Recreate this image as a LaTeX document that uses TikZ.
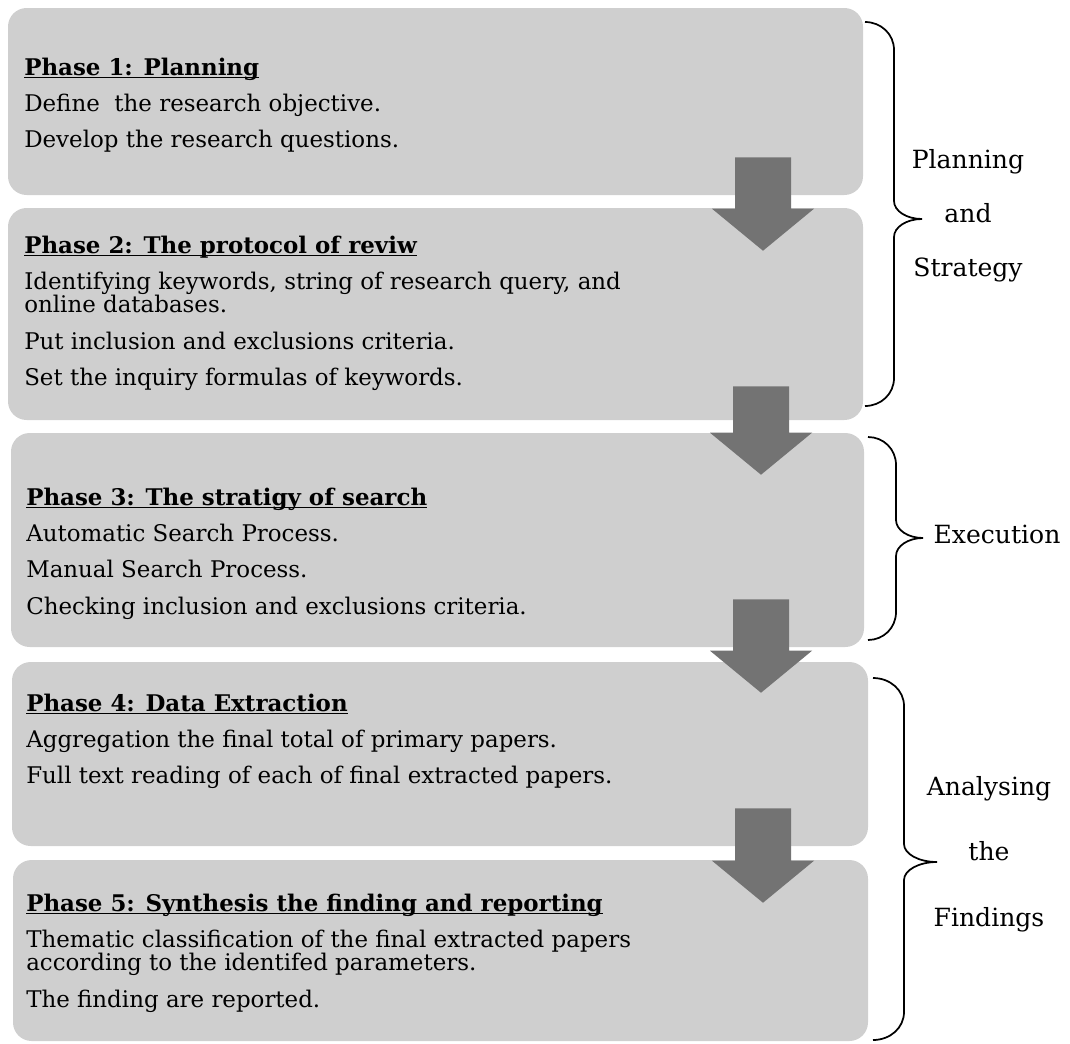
\documentclass[tikz,border=0pt]{standalone}
\usepackage{fontspec}
\setmainfont{DejaVu Serif}
\usetikzlibrary{fit}

\definecolor{boxgray}{RGB}{207,207,207}
\definecolor{arrowgray}{RGB}{115,115,115}

% bold heading with an underline that crosses the descenders
\newlength\phaseulw
\newcommand\phasehead[1]{\leavevmode\settowidth\phaseulw{\bfseries #1}%
  \rlap{\rule[-2.4pt]{\phaseulw}{1pt}}{\bfseries #1}}

% paragraph list set from the baseline of its first line
\newcommand\phaselines[1]{\parbox[t]{600pt}{\raggedright #1}}
\newcommand\parskipline{\\[9.75pt]}

% block arrow: centre x, box it starts in, rise above that box's bottom,
% box it points into, shift of the head base below that box's top
\newcommand\flowarrow[5]{%
  \path (#2.south) ++(0,-#3) coordinate (shafttop);
  \path (#4.north) ++(0,#5) coordinate (headbase);
  \path (#4.north) ++(0,#5+42) coordinate (headtip);
  \fill[arrowgray]
    (#1-28,0 |- shafttop) -- (#1+28,0 |- shafttop) --
    (#1+28,0 |- headbase) -- (#1+51,0 |- headbase) --
    (#1,0 |- headtip) --
    (#1-51,0 |- headbase) -- (#1-28,0 |- headbase) -- cycle;
}

% curly brace: end x, top y, bottom y, spine x, tip x, tip y
\newcommand\phasebrace[6]{%
  \draw[bracestroke]
    (#1,#2) .. controls ({#1+0.55*(#4-#1)},#2) and (#4,#2+12) .. (#4,#2+28)
    -- (#4,#6-18) .. controls (#4,#6-8) and ({#5-0.55*(#5-#4)},#6) .. (#5,#6)
    .. controls ({#5-0.55*(#5-#4)},#6) and (#4,#6+8) .. (#4,#6+18)
    -- (#4,#3-28) .. controls (#4,#3-12) and ({#1+0.55*(#4-#1)},#3) .. (#1,#3);
}

\begin{document}
\begin{tikzpicture}[x=0.75pt,y=-0.75pt,
  phasebox/.style={fill=boxgray, draw=none, rounded corners=14pt, inner sep=0pt},
  phasetext/.style={anchor=base west, inner sep=0pt,
    font=\fontsize{17.2}{17.6}\selectfont},
  grouplabel/.style={anchor=base, inner sep=0pt,
    font=\fontsize{18.8}{22}\selectfont},
  bracestroke/.style={draw=black, line width=1.3pt}]

\useasboundingbox (0,0) rectangle (1070,1043);

% phase boxes
\node[phasebox, fit={(8,8) (863,195)}]    (b1) {};
\node[phasebox, fit={(8,208) (863,420)}]  (b2) {};
\node[phasebox, fit={(11,433) (864,647)}] (b3) {};
\node[phasebox, fit={(12,662) (868,846)}] (b4) {};
\node[phasebox, fit={(13,860) (868,1041)}] (b5) {};

% downward arrows between the phases
\flowarrow{763}{b1}{38}{b2}{1}
\flowarrow{761}{b2}{34}{b3}{0}
\flowarrow{761}{b3}{48}{b4}{-11}
\flowarrow{763}{b4}{38}{b5}{1}

% phase contents
\node[phasetext] (t1) at (24,75) {\phaselines{\phasehead{Phase 1: Planning}\parskipline
  Define\ \ the research objective.\parskipline
  Develop the research questions.}};
\node[phasetext] (t2) at (24,253) {\phaselines{\phasehead{Phase 2: The protocol of reviw}\parskipline
  Identifying keywords, string of research query, and\\
  online databases.\parskipline
  Put inclusion and exclusions criteria.\parskipline
  Set the inquiry formulas of keywords.}};
\node[phasetext] (t3) at (26,505) {\phaselines{\phasehead{Phase 3: The stratigy of search}\parskipline
  Automatic Search Process.\parskipline
  Manual Search Process.\parskipline
  Checking inclusion and exclusions criteria.}};
\node[phasetext] (t4) at (26,711) {\phaselines{\phasehead{Phase 4: Data Extraction}\parskipline
  Aggregation the final total of primary papers.\parskipline
  Full text reading of each of final extracted papers.}};
\node[phasetext] (t5) at (26,911) {\phaselines{\phasehead{Phase 5: Synthesis the finding and reporting}\parskipline
  Thematic classification of the final extracted papers\\
  according to the identifed parameters.\parskipline
  The finding are reported.}};

% grouping braces and their labels
\phasebrace{865}{22}{406}{894}{922}{219}
\phasebrace{868}{437}{640}{896}{923}{538}
\phasebrace{873}{678}{1040}{904}{937}{862}

\node[grouplabel] (g1a) at (968,168) {Planning};
\node[grouplabel] (g1b) at (968,222) {and};
\node[grouplabel] (g1c) at (968,276) {Strategy};
\node[grouplabel] (g2)  at (997,543) {Execution};
\node[grouplabel] (g3a) at (989,795) {Analysing};
\node[grouplabel] (g3b) at (989,860) {the};
\node[grouplabel] (g3c) at (989,926) {Findings};
\end{tikzpicture}
\end{document}
